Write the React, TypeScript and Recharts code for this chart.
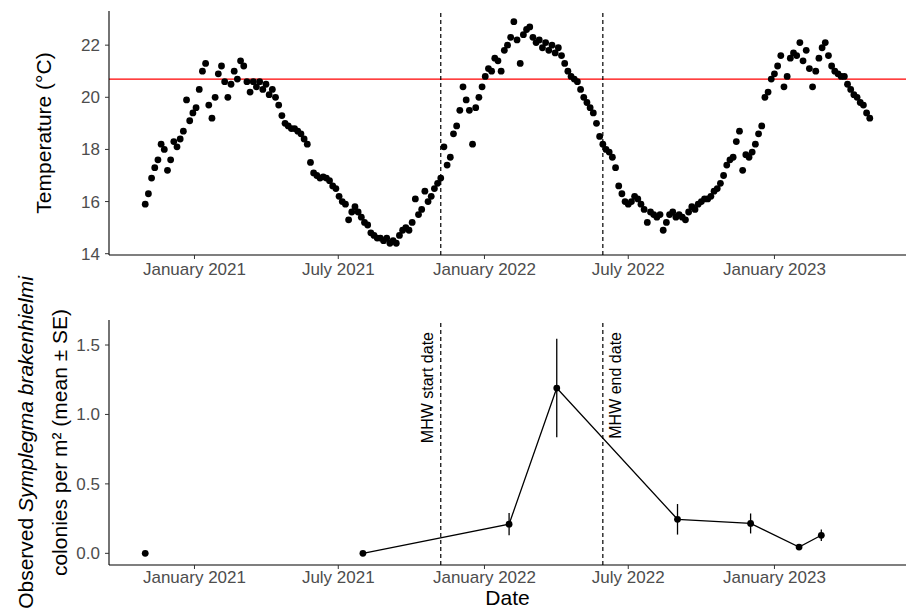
import { ComposedChart, Scatter, Line, XAxis, YAxis, ReferenceLine, ErrorBar } from 'recharts'

// daily-ish SST readings, one every 4 days from the start date
const tempStartDate = '2020-10-31'
const tempStepDays = 4
const tempValues = [
  15.9, 16.3, 16.9, 17.3, 17.6, 18.2, 18.0, 17.2, 17.6, 18.3,
  18.1, 18.4, 18.7, 19.9, 19.1, 19.4, 19.6, 20.3, 21.0, 21.3,
  19.7, 19.2, 20.0, 20.9, 21.2, 20.6, 20.0, 20.5, 21.0, 20.7,
  21.4, 21.2, 20.6, 20.2, 20.6, 20.4, 20.6, 20.3, 20.5, 20.1,
  20.3, 20.0, 19.7, 19.3, 19.0, 18.9, 18.8, 18.8, 18.7, 18.6,
  18.4, 18.2, 17.5, 17.1, 17.0, 16.9, 16.95, 16.9, 16.8, 16.6,
  16.5, 16.2, 16.0, 15.9, 15.3, 15.6, 15.8, 15.6, 15.4, 15.2,
  15.1, 14.8, 14.7, 14.6, 14.6, 14.5, 14.6, 14.4, 14.5, 14.4,
  14.7, 14.9, 15.0, 14.9, 15.2, 16.1, 15.5, 15.7, 16.4, 16.0,
  16.2, 16.5, 16.7, 16.9, 18.1, 17.4, 17.7, 18.6, 18.9, 19.5,
  20.4, 19.9, 19.5, 18.2, 19.6, 20.0, 20.4, 20.8, 21.1, 21.0,
  21.5, 21.4, 21.0, 21.8, 22.0, 22.3, 22.9, 22.2, 21.3, 22.4,
  22.6, 22.7, 22.3, 22.1, 22.2, 21.9, 22.1, 21.8, 22.0, 21.7,
  21.9, 21.6, 21.3, 21.0, 20.8, 20.7, 20.6, 20.3, 20.0, 19.8,
  19.6, 19.4, 19.0, 18.5, 18.2, 18.0, 17.9, 17.7, 17.3, 16.6,
  16.3, 16.0, 15.9, 16.0, 16.2, 16.1, 15.9, 15.7, 15.2, 15.6,
  15.5, 15.4, 15.5, 14.9, 15.2, 15.5, 15.6, 15.4, 15.5, 15.4,
  15.3, 15.6, 15.8, 15.7, 15.9, 16.0, 16.1, 16.1, 16.2, 16.4,
  16.5, 16.7, 17.0, 17.4, 17.6, 17.7, 18.3, 18.7, 17.2, 17.8,
  17.7, 17.9, 18.2, 18.6, 18.9, 20.0, 20.2, 20.7, 20.9, 21.2,
  21.6, 20.4, 20.8, 21.5, 21.7, 21.6, 22.1, 21.4, 21.8, 21.1,
  20.4, 21.0, 21.5, 21.9, 22.1, 21.6, 21.2, 21.0, 20.9, 20.8,
  20.8, 20.5, 20.3, 20.1, 20.0, 19.8, 19.7, 19.4, 19.2,
]

const tempThreshold = 20.7
const mhwStartDate = '2021-11-07'
const mhwEndDate = '2022-05-30'

// survey means and standard errors
const surveyDates = ['2020-10-31', '2021-08-01', '2022-02-01', '2022-04-02', '2022-09-01', '2022-12-02', '2023-02-01', '2023-03-01']
const surveyMeans = [0, 0, 0.21, 1.19, 0.245, 0.215, 0.045, 0.13]
const surveySE = [0, 0, 0.08, 0.355, 0.11, 0.072, 0.012, 0.042]
const surveyJoined = [false, true, true, true, true, true, true, true]

const tickDates = ['2021-01-01', '2021-07-01', '2022-01-01', '2022-07-01', '2023-01-01']
const tickLabels = ['January 2021', 'July 2021', 'January 2022', 'July 2022', 'January 2023']
const tempTicks = [14, 16, 18, 20, 22]
const countTicks = [0, 0.5, 1, 1.5]

const DAY = 86400000
const ms = (d: string) => Date.parse(d + 'T00:00:00Z')

const tempData = tempValues.map((v, i) => ({ t: ms(tempStartDate) + i * tempStepDays * DAY, temp: v }))
const surveyData = surveyDates.map((d, i) => ({
  t: ms(d),
  mean: surveyMeans[i],
  se: surveySE[i],
  joined: surveyJoined[i] ? surveyMeans[i] : null,
}))

const tMin = tempData[0].t
const tMax = tempData[tempData.length - 1].t
const pad = (tMax - tMin) * 0.05
const xDomain = [tMin - pad, tMax + pad]
const xTicks = tickDates.map(ms)
const tickFmt = (v: number) => tickLabels[xTicks.indexOf(v)] ?? ''

const FONT = '"Liberation Sans", Arial, sans-serif'
const tickStyle = { fill: '#4D4D4D', fontSize: 17 }

const dot = (r: number) => (p: any) => <circle cx={p.cx} cy={p.cy} r={r} fill="#000" />

const TempTitle = (p: any) => {
  const vb = p.viewBox || {}
  const cy = (vb.y ?? 11) + (vb.height ?? 244) / 2
  return (
    <text x={51} y={cy} transform={`rotate(-90 51 ${cy})`} textAnchor="middle" fontSize={21} fill="#000">
      Temperature (°C)
    </text>
  )
}

const CountTitle = (p: any) => {
  const vb = p.viewBox || {}
  const cy = (vb.y ?? 62) + (vb.height ?? 245) / 2
  return (
    <g>
      <text x={33} y={cy} transform={`rotate(-90 33 ${cy})`} textAnchor="middle" fontSize={21} fill="#000">
        Observed <tspan fontStyle="italic">Symplegma brakenhielmi</tspan>
      </text>
      <text x={67} y={cy} transform={`rotate(-90 67 ${cy})`} textAnchor="middle" fontSize={21} fill="#000">
        colonies per m² (mean ± SE)
      </text>
    </g>
  )
}

const DateTitle = (p: any) => {
  const vb = p.viewBox || {}
  return (
    <text x={(vb.x ?? 109) + (vb.width ?? 797) / 2} y={(vb.y ?? 565) + 40} textAnchor="middle" fontSize={21} fill="#000">
      Date
    </text>
  )
}

const mhwLabel = (text: string, dx: number) => (p: any) => {
  const vb = p.viewBox || {}
  const x = vb.x + dx
  const y = vb.y + 12
  return (
    <text x={x} y={y} transform={`rotate(-90 ${x} ${y})`} textAnchor="end" fontSize={16} fill="#000">
      {text}
    </text>
  )
}

export default function App() {
  return (
    <div style={{ position: 'absolute', left: 0, top: 0, width: 907, height: 608, background: '#fff', fontFamily: FONT, overflow: 'hidden' }}>
      <div style={{ position: 'absolute', left: 0, top: 0 }}>
        <ComposedChart width={907} height={282} data={tempData} margin={{ top: 11, right: 1, bottom: 0, left: 0 }}>
          <XAxis
            dataKey="t"
            type="number"
            domain={xDomain}
            ticks={xTicks}
            tickFormatter={tickFmt}
            interval={0}
            height={27}
            tickSize={4}
            tickMargin={4}
            tick={tickStyle}
            axisLine={{ stroke: '#000', strokeWidth: 1.1 }}
            tickLine={{ stroke: '#333' }}
            allowDataOverflow
          />
          <YAxis
            type="number"
            domain={[13.95, 23.31]}
            ticks={tempTicks}
            width={109}
            tickSize={4}
            tickMargin={5}
            tick={tickStyle}
            axisLine={{ stroke: '#000', strokeWidth: 1.1 }}
            tickLine={{ stroke: '#333' }}
            allowDataOverflow
            label={TempTitle}
          />
          <Scatter dataKey="temp" fill="#000" shape={dot(3.4)} isAnimationActive={false} />
          <ReferenceLine y={tempThreshold} stroke="#FF0000" strokeWidth={1.3} />
          <ReferenceLine x={ms(mhwStartDate)} stroke="#000" strokeDasharray="4 3" strokeWidth={1.2} />
          <ReferenceLine x={ms(mhwEndDate)} stroke="#000" strokeDasharray="4 3" strokeWidth={1.2} />
        </ComposedChart>
      </div>
      <div style={{ position: 'absolute', left: 0, top: 258 }}>
        <ComposedChart width={907} height={350} data={surveyData} margin={{ top: 62, right: 1, bottom: 0, left: 0 }}>
          <XAxis
            dataKey="t"
            type="number"
            domain={xDomain}
            ticks={xTicks}
            tickFormatter={tickFmt}
            interval={0}
            height={43}
            tickSize={4}
            tickMargin={2}
            tick={tickStyle}
            axisLine={{ stroke: '#000', strokeWidth: 1.1 }}
            tickLine={{ stroke: '#333' }}
            allowDataOverflow
            label={DateTitle}
          />
          <YAxis
            type="number"
            domain={[-0.084, 1.68]}
            ticks={countTicks}
            tickFormatter={(v: number) => v.toFixed(1)}
            width={109}
            tickSize={4}
            tickMargin={5}
            tick={tickStyle}
            axisLine={{ stroke: '#000', strokeWidth: 1.1 }}
            tickLine={{ stroke: '#333' }}
            allowDataOverflow
            label={CountTitle}
          />
          <ReferenceLine x={ms(mhwStartDate)} stroke="#000" strokeDasharray="4 3" strokeWidth={1.2} label={mhwLabel('MHW start date', -8)} />
          <ReferenceLine x={ms(mhwEndDate)} stroke="#000" strokeDasharray="4 3" strokeWidth={1.2} label={mhwLabel('MHW end date', 18)} />
          <Line dataKey="joined" stroke="#000" strokeWidth={1.3} dot={false} activeDot={false} connectNulls={false} isAnimationActive={false} />
          <Scatter dataKey="mean" fill="#000" shape={dot(3.4)} isAnimationActive={false}>
            <ErrorBar dataKey="se" direction="y" width={0} stroke="#000" strokeWidth={1.3} />
          </Scatter>
        </ComposedChart>
      </div>
    </div>
  )
}
